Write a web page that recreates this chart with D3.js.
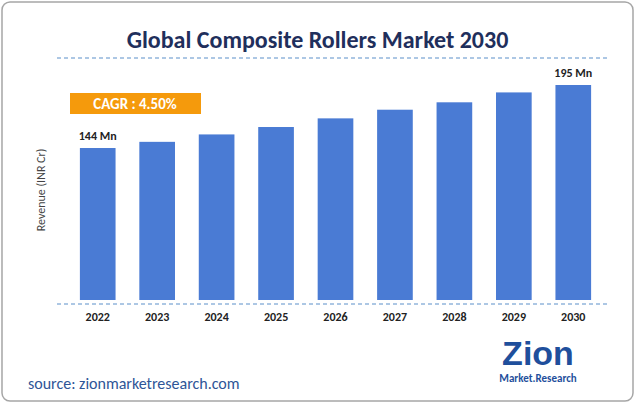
<!DOCTYPE html>
<html><head><meta charset="utf-8">
<script src="https://cdn.jsdelivr.net/npm/d3@7"></script>
<style>body{margin:0;background:#fff;font-family:Calibri,Carlito,"Liberation Sans",sans-serif;}</style>
</head><body><div id="chart"></div>
<script>
const years = ["2022","2023","2024","2025","2026","2027","2028","2029","2030"];
const revenue = [144, 149, 155, 161, 168, 175, 181, 189, 195];
const labels = {"2022": "144 Mn", "2030": "195 Mn"};

const W = 635, H = 403;
const svg = d3.select("#chart").append("svg").attr("width", W).attr("height", H);

svg.append("rect").attr("x", 2).attr("y", 2).attr("width", W - 4).attr("height", H - 4)
    .attr("rx", 8).attr("fill", "#fff").attr("stroke", "#a6a6a6").attr("stroke-width", 1.5);

svg.append("text").attr("x", W / 2).attr("y", 48).attr("text-anchor", "middle")
    .attr("font-size", 24).attr("font-weight", "bold").attr("fill", "#1f2f5c")
    .text("Global Composite Rollers Market 2030");

// dashed guides
[58, 304].forEach(y => svg.append("line").attr("x1", 57).attr("x2", 610).attr("y1", y).attr("y2", y)
    .attr("stroke", "#5b8fc9").attr("stroke-dasharray", "4,3"));

const x = d3.scaleBand().domain(years).range([68, 603]).paddingInner(0.4).paddingOuter(0.2);
const y = d3.scaleLinear().domain([21, 195]).range([300, 85]);

svg.selectAll(".bar").data(years).enter().append("rect").attr("class", "bar")
    .attr("x", d => x(d)).attr("width", x.bandwidth())
    .attr("y", (d, i) => y(revenue[i])).attr("height", (d, i) => 300 - y(revenue[i]))
    .attr("fill", "#4a7bd4");

const xAxis = svg.append("g").attr("transform", "translate(0,300)")
    .call(d3.axisBottom(x).tickSize(0).tickPadding(12));
xAxis.select(".domain").remove();
xAxis.selectAll("text").attr("font-size", 12).attr("font-weight", "bold").attr("fill", "#222")
    .attr("font-family", "Calibri,Carlito,'Liberation Sans',sans-serif");

years.forEach((d, i) => {
    if (labels[d]) svg.append("text").attr("x", x(d) + x.bandwidth() / 2).attr("y", y(revenue[i]) - 8)
        .attr("text-anchor", "middle").attr("font-size", 12).attr("font-weight", "bold").attr("fill", "#222")
        .text(labels[d]);
});

svg.append("rect").attr("x", 70).attr("y", 93).attr("width", 131).attr("height", 21).attr("fill", "#f59a0c");
svg.append("text").attr("x", 135).attr("y", 109).attr("text-anchor", "middle").attr("font-size", 15)
    .attr("font-weight", "bold").attr("fill", "#fff").text("CAGR : 4.50%");

svg.append("text").attr("transform", "translate(45,190) rotate(-90)").attr("text-anchor", "middle")
    .attr("font-size", 12).attr("fill", "#444").text("Revenue (INR Cr)");

svg.append("text").attr("x", 28).attr("y", 389).attr("font-size", 16).attr("fill", "#2e5597")
    .text("source: zionmarketresearch.com");

// logo
svg.append("text").attr("x", 538).attr("y", 365).attr("text-anchor", "middle").attr("font-size", 34)
    .attr("font-weight", "bold").attr("fill", "#1f4f9c").attr("font-family", "'Liberation Sans',Arial,sans-serif").text("Zion");
svg.append("text").attr("x", 538).attr("y", 382).attr("text-anchor", "middle").attr("font-size", 11)
    .attr("font-weight", "bold").attr("fill", "#1f4f9c").text("Market.Research");
</script></body></html>
